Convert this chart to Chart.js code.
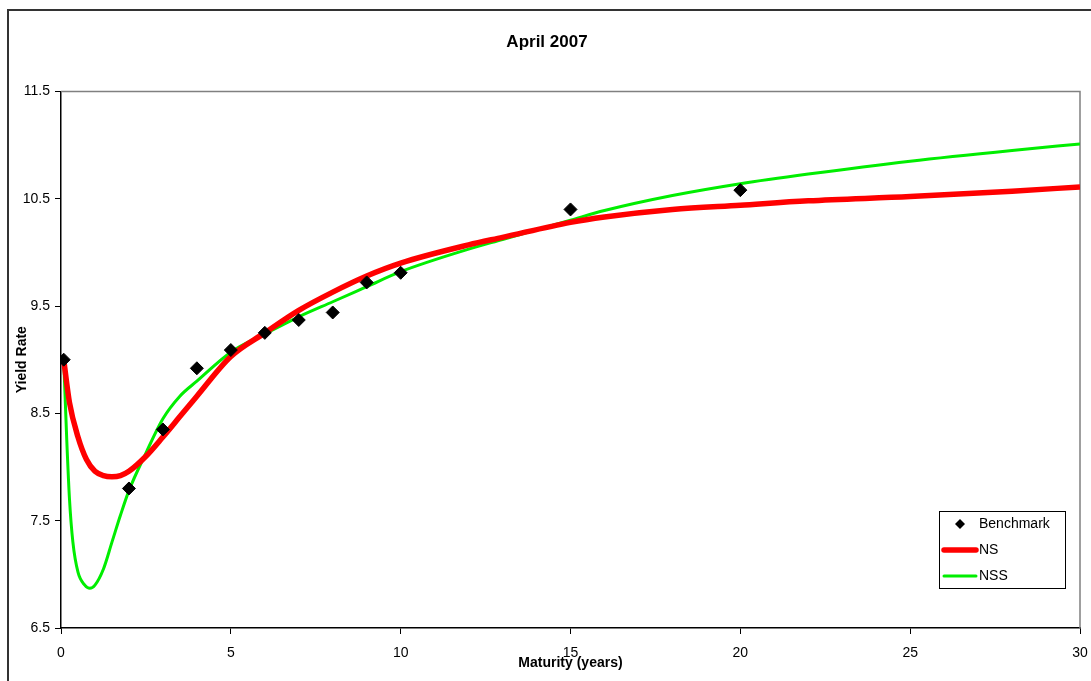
<!DOCTYPE html>
<html>
<head>
<meta charset="utf-8">
<title>April 2007</title>
<script src="https://cdn.jsdelivr.net/npm/chart.js@4.4.1/dist/chart.umd.min.js"></script>
<style>
  html, body { margin: 0; padding: 0; background: #fff; }
  #wrap { width: 1091px; height: 681px; }
</style>
</head>
<body>
<div id="wrap"><canvas id="yieldChart" width="1091" height="681"></canvas></div>
<script>
// benchmark yields
var benchMaturity = [0.08, 2, 3, 4, 5, 6, 7, 8, 9, 10, 15, 20];
var benchYield = [9.00, 7.80, 8.35, 8.92, 9.09, 9.25, 9.37, 9.44, 9.72, 9.81, 10.40, 10.58];

// Nelson-Siegel fitted curve
var nsMaturity = [0.08, 0.25, 0.5, 0.75, 1, 1.25, 1.5, 1.75, 2, 2.5, 3, 3.5, 4, 5, 6, 7, 8, 9, 10, 12, 13, 15, 16, 18, 20, 22, 25, 28, 30];
var nsYield = [9.00, 8.60, 8.28, 8.07, 7.96, 7.92, 7.91, 7.92, 7.96, 8.10, 8.28, 8.47, 8.66, 9.03, 9.25, 9.46, 9.63, 9.78, 9.90, 10.07, 10.14, 10.28, 10.33, 10.40, 10.44, 10.48, 10.52, 10.57, 10.61];

// Nelson-Siegel-Svensson fitted curve
var nssMaturity = [0.08, 0.17, 0.25, 0.35, 0.5, 0.7, 0.85, 1, 1.25, 1.5, 1.75, 2, 2.5, 3, 3.5, 4, 5, 6, 7, 8, 9, 10, 12, 13, 14, 15, 16, 18, 20, 22, 25, 28, 30];
var nssYield = [9.00, 8.25, 7.70, 7.30, 7.02, 6.90, 6.87, 6.90, 7.05, 7.30, 7.55, 7.78, 8.13, 8.45, 8.66, 8.80, 9.07, 9.24, 9.40, 9.54, 9.68, 9.82, 10.03, 10.12, 10.21, 10.30, 10.39, 10.53, 10.64, 10.73, 10.85, 10.95, 11.01];

var xTicks = [0, 5, 10, 15, 20, 25, 30];
var yTicks = [6.5, 7.5, 8.5, 9.5, 10.5, 11.5];

function toPoints(xs, ys) {
    return xs.map(function (x, i) { return { x: x, y: ys[i] }; });
}

// white background, outer frame and the grey top/right border of the plot
var framePlugin = {
    id: 'frame',
    beforeDraw: function (chart) {
        var ctx = chart.ctx;
        ctx.save();
        ctx.fillStyle = '#fff';
        ctx.fillRect(0, 0, chart.width, chart.height);
        ctx.strokeStyle = '#333';
        ctx.lineWidth = 2;
        ctx.beginPath();
        ctx.moveTo(8, chart.height);
        ctx.lineTo(8, 10);
        ctx.lineTo(chart.width, 10);
        ctx.stroke();
        ctx.restore();
    },
    beforeDatasetsDraw: function (chart) {
        var a = chart.chartArea, ctx = chart.ctx;
        ctx.save();
        ctx.strokeStyle = '#808080';
        ctx.lineWidth = 1.5;
        ctx.beginPath();
        ctx.moveTo(a.left, a.top);
        ctx.lineTo(a.right, a.top);
        ctx.lineTo(a.right, a.bottom);
        ctx.stroke();
        ctx.restore();
    }
};

// boxed legend in the lower right corner of the plot
var boxLegend = {
    id: 'boxLegend',
    afterDraw: function (chart) {
        var a = chart.chartArea, ctx = chart.ctx;
        var w = 126, h = 77;
        var x0 = a.right - 15 - w, y0 = a.bottom - 40 - h;
        ctx.save();
        ctx.fillStyle = '#fff';
        ctx.fillRect(x0, y0, w, h);
        ctx.strokeStyle = '#000';
        ctx.lineWidth = 1;
        ctx.strokeRect(x0 + 0.5, y0 + 0.5, w, h);
        ctx.font = '14px "Liberation Sans", Arial, sans-serif';
        ctx.textBaseline = 'middle';
        ctx.fillStyle = '#000';
        chart.data.datasets.forEach(function (ds, i) {
            var cy = y0 + 13 + i * 26;
            if (ds.showLine === false) {
                ctx.beginPath();
                ctx.moveTo(x0 + 16, cy);
                ctx.lineTo(x0 + 21, cy - 5);
                ctx.lineTo(x0 + 26, cy);
                ctx.lineTo(x0 + 21, cy + 5);
                ctx.closePath();
                ctx.fill();
            } else {
                ctx.strokeStyle = ds.borderColor;
                ctx.lineWidth = ds.borderWidth;
                ctx.lineCap = 'round';
                ctx.beginPath();
                ctx.moveTo(x0 + 5, cy);
                ctx.lineTo(x0 + 37, cy);
                ctx.stroke();
            }
            ctx.fillStyle = '#000';
            ctx.fillText(ds.label, x0 + 40, cy);
        });
        ctx.restore();
    }
};

var tickFont = { family: '"Liberation Sans", Arial, sans-serif', size: 14 };
var titleFont = { family: '"Liberation Sans", Arial, sans-serif', size: 14, weight: 'bold' };

new Chart(document.getElementById('yieldChart'), {
    type: 'scatter',
    data: {
        datasets: [{
            label: 'Benchmark',
            data: toPoints(benchMaturity, benchYield),
            showLine: false,
            pointStyle: 'rectRot',
            pointRadius: 6.5,
            pointBackgroundColor: '#000',
            pointBorderColor: '#000',
            pointBorderWidth: 1
        }, {
            label: 'NS',
            data: toPoints(nsMaturity, nsYield),
            showLine: true,
            borderColor: '#ff0000',
            borderWidth: 5.5,
            pointRadius: 0,
            cubicInterpolationMode: 'monotone'
        }, {
            label: 'NSS',
            data: toPoints(nssMaturity, nssYield),
            showLine: true,
            borderColor: '#00ee00',
            borderWidth: 3,
            pointRadius: 0,
            cubicInterpolationMode: 'monotone'
        }]
    },
    options: {
        responsive: false,
        animation: false,
        devicePixelRatio: 1,
        layout: { padding: { left: 14, right: 11, top: 0, bottom: 0 } },
        plugins: {
            legend: { display: false },
            tooltip: { enabled: false },
            title: {
                display: true,
                text: 'April 2007',
                color: '#000',
                font: { family: '"Liberation Sans", Arial, sans-serif', size: 17, weight: 'bold' },
                padding: { top: 32, bottom: 39 }
            }
        },
        scales: {
            x: {
                type: 'linear',
                min: 0,
                max: 30,
                afterBuildTicks: function (scale) {
                    scale.ticks = xTicks.map(function (v) { return { value: v }; });
                },
                afterFit: function (scale) {
                    scale.height = 53;
                    scale.paddingLeft = 0;
                    scale.paddingRight = 0;
                },
                grid: { drawOnChartArea: false, tickLength: 6, color: '#000' },
                border: { color: '#000', width: 1.5 },
                ticks: { color: '#000', font: tickFont, padding: 11, maxRotation: 0 },
                title: {
                    display: true,
                    text: 'Maturity (years)',
                    color: '#000',
                    font: titleFont,
                    padding: { top: 0, bottom: 9 }
                }
            },
            y: {
                type: 'linear',
                min: 6.5,
                max: 11.5,
                afterBuildTicks: function (scale) {
                    scale.ticks = yTicks.map(function (v) { return { value: v }; });
                },
                afterFit: function (scale) { scale.width = 47; },
                grid: { drawOnChartArea: false, tickLength: 6, color: '#000' },
                border: { color: '#000', width: 1.5 },
                ticks: {
                    color: '#000',
                    font: tickFont,
                    padding: 5,
                    callback: function (v) { return v.toFixed(1); }
                },
                title: {
                    display: true,
                    text: 'Yield Rate',
                    color: '#000',
                    font: titleFont,
                    padding: { top: 0, bottom: 0 }
                }
            }
        }
    },
    plugins: [framePlugin, boxLegend]
});
</script>
</body>
</html>
